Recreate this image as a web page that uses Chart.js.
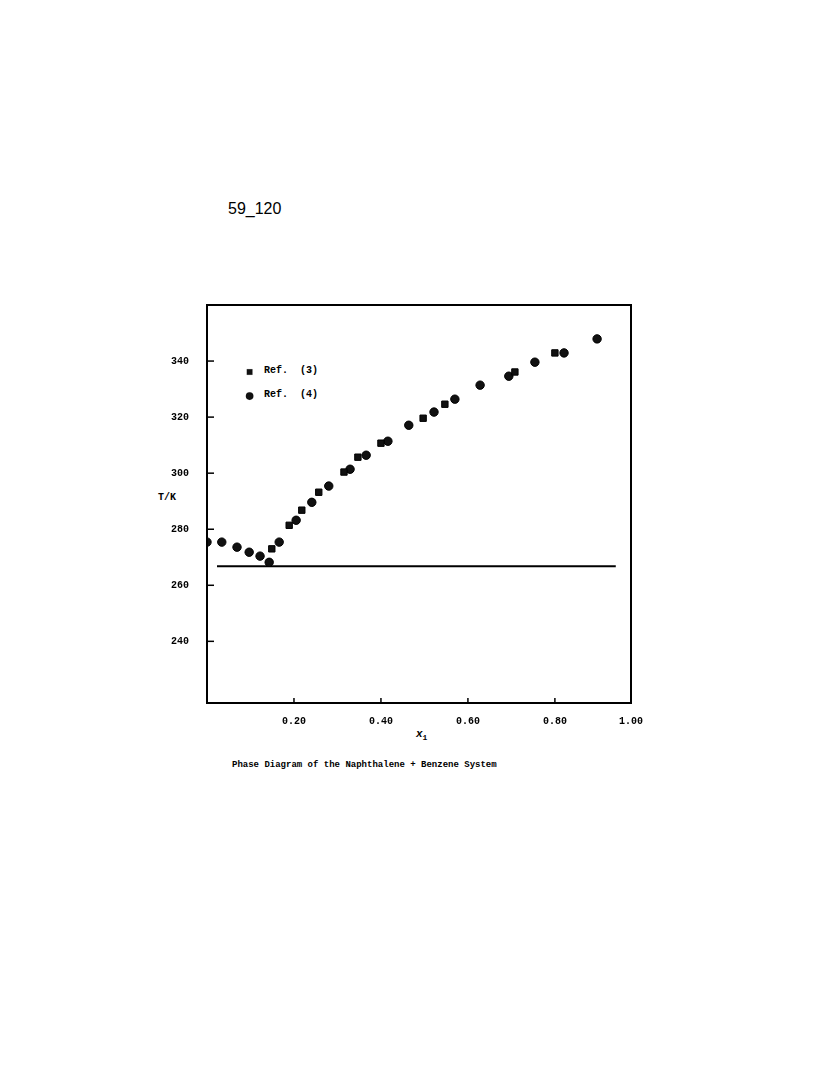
<!DOCTYPE html>
<html><head><meta charset="utf-8">
<script src="https://cdn.jsdelivr.net/npm/chart.js@4"></script>
<style>
body{margin:0;background:#fff;width:836px;height:1073px;position:relative;overflow:hidden}
.t{position:absolute;font-family:"Liberation Mono","DejaVu Sans Mono",monospace;font-weight:bold;color:#000;white-space:pre}
canvas{position:absolute;left:0;top:0}
</style></head><body>
<div class="t" style="left:228px;top:200px;font-family:'Liberation Sans',Arial,sans-serif;font-weight:normal;font-size:16px">59_120</div>
<div class="t" style="left:158px;top:492px;font-size:10px">T/K</div>
<div class="t" style="left:416px;top:728px;font-size:11px;font-style:italic">x<sub style="font-size:8px;font-style:normal">1</sub></div>
<div class="t" style="left:264px;top:365px;font-size:10px">Ref.  (3)</div>
<div class="t" style="left:264px;top:389px;font-size:10px">Ref.  (4)</div>
<div class="t" style="left:232px;top:760px;font-size:9px">Phase Diagram of the Naphthalene + Benzene System</div>
<canvas id="c" width="836" height="1073"></canvas>
<script>
const ref3X=[0.149,0.189,0.218,0.257,0.315,0.347,0.400,0.497,0.547,0.708,0.800];
const ref3T=[273.0,281.4,286.8,293.2,300.4,305.7,310.7,319.6,324.6,336.1,342.9];
const ref4X=[0.0,0.034,0.069,0.097,0.122,0.143,0.166,0.205,0.241,0.280,0.329,0.366,0.416,0.464,0.522,0.570,0.628,0.694,0.754,0.821,0.897];
const ref4T=[275.4,275.4,273.6,271.8,270.4,268.2,275.4,283.2,289.6,295.4,301.4,306.4,311.4,317.1,321.8,326.4,331.4,334.6,339.6,342.9,347.9];
const eutX=[0.023,0.94];
const eutT=[266.8,266.8];
const yTicks=[240,260,280,300,320,340];
const xTicks=[0.2,0.4,0.6,0.8,0.975];
const xLabels=["0.20","0.40","0.60","0.80","1.00"];
const legendPts=[{x:0.098,y:336.1},{x:0.098,y:327.5}];
const pts=(xs,ys)=>xs.map((x,i)=>({x,y:ys[i]}));
const frame={id:'frame',afterDraw(c){const {ctx,chartArea:a,scales:s}=c;ctx.save();ctx.strokeStyle='#000';ctx.lineWidth=2;
ctx.strokeRect(a.left,a.top,a.right-a.left,a.bottom-a.top);ctx.lineWidth=1.5;
yTicks.forEach(v=>{const y=s.y.getPixelForValue(v);ctx.beginPath();ctx.moveTo(a.left,y);ctx.lineTo(a.left+7,y);ctx.stroke();});
xTicks.forEach(v=>{const x=s.x.getPixelForValue(v);ctx.beginPath();ctx.moveTo(x,a.bottom);ctx.lineTo(x,a.bottom-5);ctx.stroke();});
ctx.restore();}};
new Chart(document.getElementById('c'),{type:'scatter',
data:{datasets:[
{data:pts(ref3X,ref3T),pointStyle:'rect',pointRadius:4.5,backgroundColor:'#111',borderColor:'#000'},
{data:pts(ref4X,ref4T),pointStyle:'circle',pointRadius:4.2,backgroundColor:'#111',borderColor:'#000'},
{data:pts(eutX,eutT),showLine:true,pointRadius:0,borderColor:'#000',borderWidth:2},
{data:[legendPts[0]],pointStyle:'rect',pointRadius:4,backgroundColor:'#111'},
{data:[legendPts[1]],pointStyle:'circle',pointRadius:3.8,backgroundColor:'#111'}
]},
options:{responsive:false,animation:false,events:[],
layout:{padding:{left:140,top:305,right:205,bottom:340}},
plugins:{legend:{display:false},tooltip:{enabled:false}},
scales:{
x:{min:0,max:0.975,grid:{display:false},border:{display:false},
afterFit(s){s.height=30;},afterBuildTicks(s){s.ticks=xTicks.map(v=>({value:v}));},
ticks:{color:'#000',padding:4,font:{family:'Liberation Mono',weight:'bold',size:10},callback:(v,i)=>xLabels[i]}},
y:{min:218,max:360,grid:{display:false},border:{display:false},
afterFit(s){s.width=67;},afterBuildTicks(s){s.ticks=yTicks.map(v=>({value:v}));},
ticks:{color:'#000',padding:10,font:{family:'Liberation Mono',weight:'bold',size:10}}}
}},plugins:[frame]});
</script></body></html>
